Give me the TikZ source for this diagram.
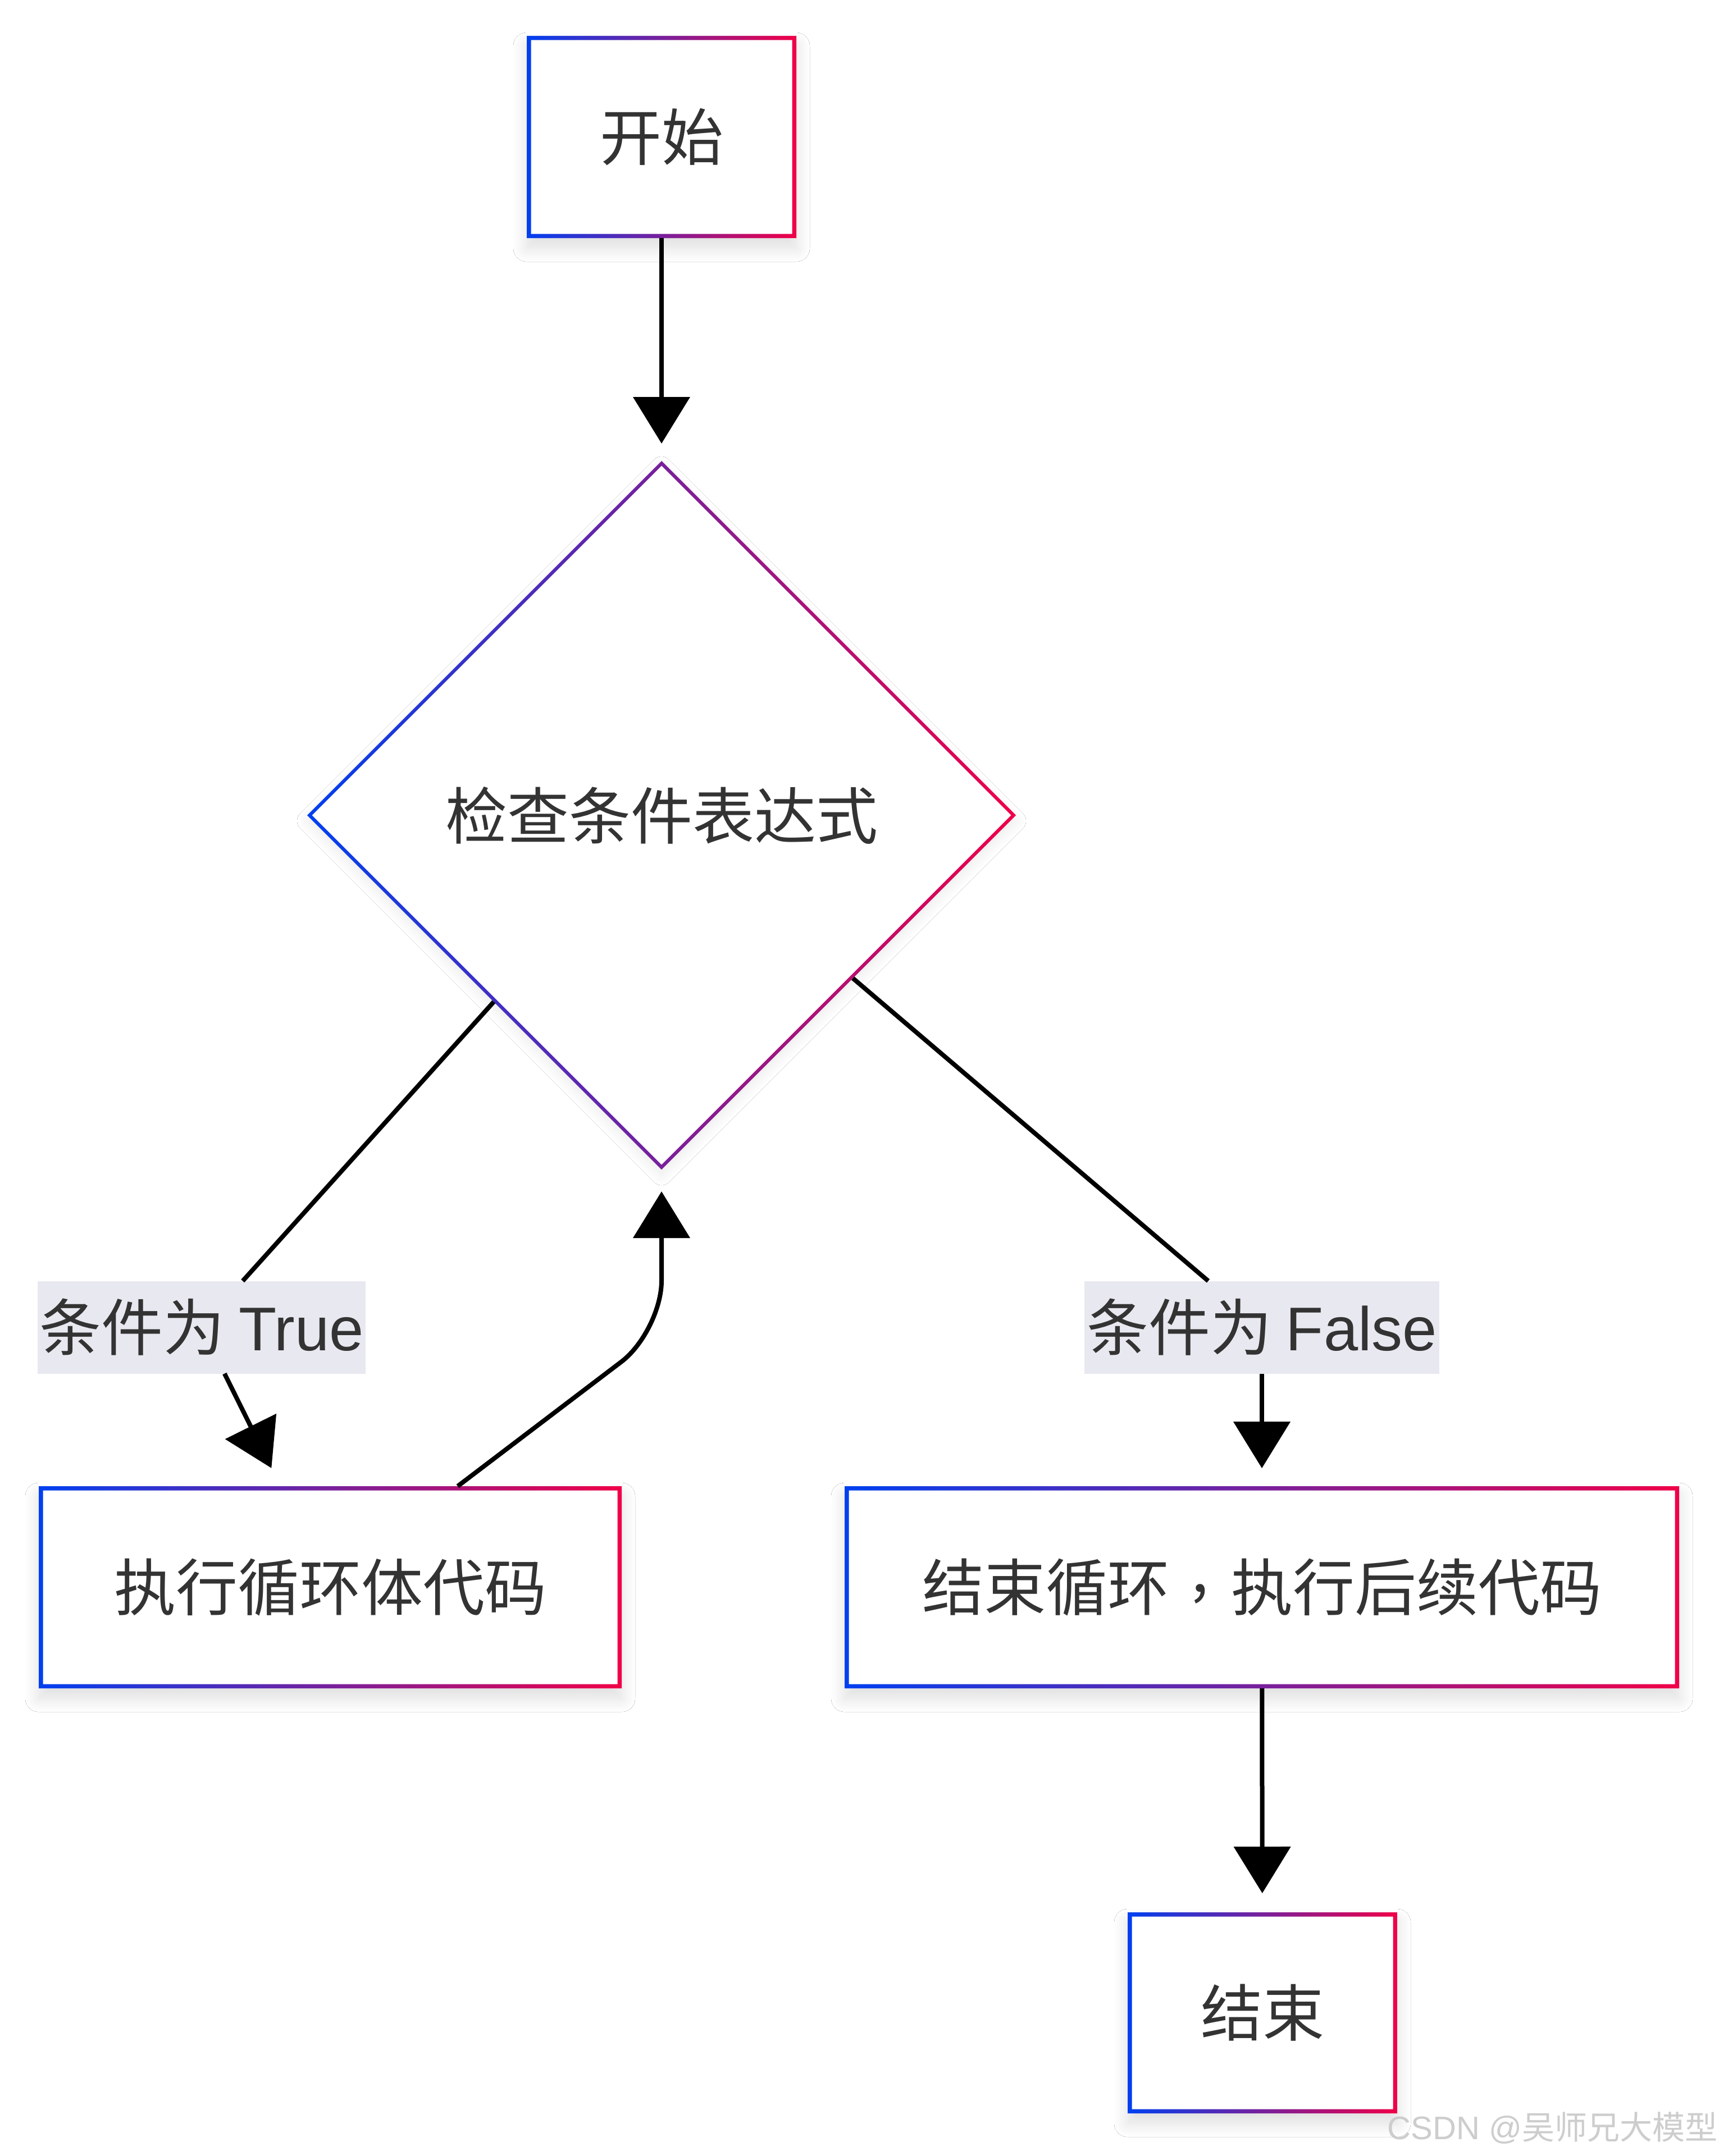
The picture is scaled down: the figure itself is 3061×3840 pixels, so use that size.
\documentclass[tikz,border=0pt]{standalone}
\usepackage{fontspec}
\setmainfont{Noto Sans CJK SC}
\newfontfamily\latinfont{Liberation Sans}
\usetikzlibrary{arrows.meta,shapes.geometric,shadows.blur}
\definecolor{cblue}{RGB}{0,64,240}
\definecolor{cred}{RGB}{240,0,72}
\definecolor{ctext}{RGB}{51,51,51}
\definecolor{clabel}{RGB}{232,232,240}
\definecolor{cwater}{RGB}{205,205,205}
\newcommand\gradrect[2]{%
  \shade[left color=cblue,right color=cred,even odd rule]
    (#1.north west) rectangle (#1.south east)
    ([xshift=#2,yshift=-#2]#1.north west) rectangle ([xshift=-#2,yshift=#2]#1.south east);}
\newcommand\graddiamond[2]{%
  \shade[left color=cblue,right color=cred,even odd rule]
    (#1.north) -- (#1.east) -- (#1.south) -- (#1.west) -- cycle
    ([yshift=-#2]#1.north) -- ([xshift=-#2]#1.east) -- ([yshift=#2]#1.south) -- ([xshift=#2]#1.west) -- cycle;}
\newcommand\midcomma{\makebox[1em][c]{\raisebox{0.3em}{,}}}
\begin{document}
\begin{tikzpicture}[x=1pt,y=-1pt,
  every node/.style={outer sep=0pt, inner sep=0pt, text=ctext,
    font=\fontsize{110}{130}\selectfont},
  shadowed/.style={blur shadow={shadow xshift=0pt, shadow yshift=-18pt,
    shadow blur radius=24pt, shadow opacity=13, shadow blur steps=16}},
  stepbox/.style={rectangle, fill=white, minimum height=360pt, shadowed},
  decision/.style={diamond, fill=white, minimum width=1262pt, minimum height=1262pt,
    blur shadow={shadow xshift=0pt, shadow yshift=-10pt,
    shadow blur radius=18pt, shadow opacity=8, shadow blur steps=12}},
  edgelabel/.style={rectangle, fill=clabel, minimum height=165pt, inner xsep=4pt},
  conn/.style={draw=black, line width=8pt},
  arrow/.style={conn, -{Triangle[length=83pt,width=100pt]}},
]
\useasboundingbox (0,0) rectangle (3061,3840);
\fill[white] (0,0) rectangle (3061,3840);

% nodes
\node[stepbox, minimum width=480pt] (start) at (1178,244) {开始};
\node[decision] (cond) at (1178,1452) {检查条件表达式};
\node[edgelabel] (tlabel) at (359,2364) {条件为 {\latinfont True}};
\node[edgelabel] (flabel) at (2247,2364) {条件为 {\latinfont False}};
\node[stepbox, minimum width=1038pt] (body) at (588,2827) {执行循环体代码};
\node[stepbox, minimum width=1486pt] (after) at (2247,2827) {结束循环\midcomma 执行后续代码};
\node[stepbox, minimum width=480pt, minimum height=358pt] (stop) at (2248,3585) {结束};

% gradient borders
\gradrect{start}{7.5pt}
\gradrect{body}{7.5pt}
\gradrect{after}{7.5pt}
\gradrect{stop}{7.5pt}
\graddiamond{cond}{8.5pt}

% connectors
\draw[arrow, shorten >=31pt] (start) -- (cond);
\draw[conn] (cond) -- (tlabel);
\draw[arrow, shorten >=36pt] (tlabel) -- (body);
\draw[conn] (cond) -- (flabel);
\draw[arrow, shorten >=32pt] (flabel) -- (after);
\draw[arrow, shorten >=34pt] (after) -- (stop);
\coordinate (bend) at (1178,2371);
\draw[arrow, rounded corners=90pt] ([xshift=227pt]body.north) -- (bend) -- ([yshift=-39pt]cond.south);

% watermark
\node[anchor=east, text=cwater, font=\fontsize{58}{64}\selectfont] (wm) at (3058,3790)
  {{\latinfont CSDN @}吴师兄大模型};
\end{tikzpicture}
\end{document}
